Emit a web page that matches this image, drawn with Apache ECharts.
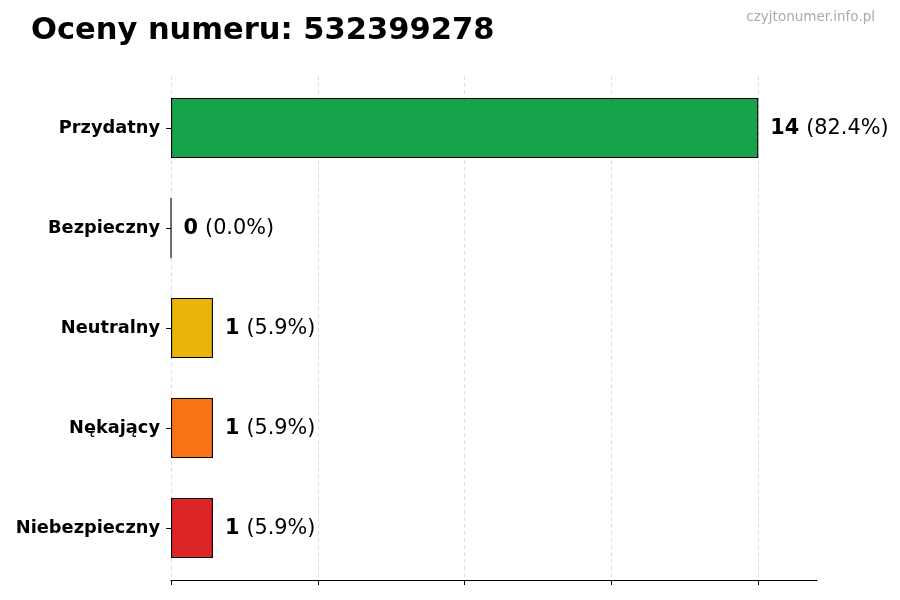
<!DOCTYPE html>
<html>
<head>
<meta charset="utf-8">
<script src="https://cdn.jsdelivr.net/npm/echarts@6/dist/echarts.min.js"></script>
<style>
html,body{margin:0;padding:0;background:#fff;}
#chart{width:900px;height:600px;}
</style>
</head>
<body>
<div id="chart"></div>
<script>
const categories = ["Przydatny", "Bezpieczny", "Neutralny", "Nękający", "Niebezpieczny"];
const values = [14, 0, 1, 1, 1];
const percents = ["82.4", "0.0", "5.9", "5.9", "5.9"];
const barColors = ["#16a34a", "#2563eb", "#eab308", "#f97316", "#dc2626"];
const titleText = "Oceny numeru: 532399278";
const watermark = "czyjtonumer.info.pl";

const FONT = '"DejaVu Sans", "Noto Sans", sans-serif';
const chart = echarts.init(document.getElementById('chart'), null, {renderer: 'canvas'});

const option = {
  backgroundColor: '#ffffff',
  animation: false,
  textStyle: {fontFamily: FONT},
  graphic: [
    {type: 'text', x: 31, y: 31.5, style: {text: titleText, font: 'bold 30.5px ' + FONT, fill: '#000', verticalAlign: 'middle'}},
    {type: 'text', x: 875, y: 17.5, style: {text: watermark, font: '13.5px ' + FONT, fill: '#aaaaaa', align: 'right', verticalAlign: 'middle'}}
  ],
  grid: [
    {left: 171, right: 83, top: 78, height: 500},
    {left: 171, right: 83, top: 76, height: 504},
    {left: 171, width: 587, top: 76, height: 504}
  ],
  xAxis: [
    {gridIndex: 0, type: 'value', min: 0, max: 15.4, show: false},
    {gridIndex: 1, type: 'value', min: 0, max: 15.4,
      axisLine: {show: true, onZero: false, lineStyle: {color: '#000', width: 1.2}},
      axisTick: {show: false}, axisLabel: {show: false}, splitLine: {show: false}},
    {gridIndex: 2, type: 'value', min: 0, max: 14, interval: 3.5,
      axisLine: {show: false, onZero: false},
      axisTick: {show: true, length: 5, lineStyle: {color: '#000', width: 1}},
      axisLabel: {show: false},
      splitLine: {show: true, lineStyle: {type: [4, 3], color: '#d4d4d4', width: 0.8}}}
  ],
  yAxis: [
    {gridIndex: 0, type: 'category', data: categories, inverse: true,
      axisLine: {show: false},
      axisTick: {show: true, alignWithLabel: true, length: 5, lineStyle: {color: '#000'}},
      axisLabel: {fontFamily: FONT, fontWeight: 'bold', fontSize: 17.8, color: '#000', margin: 11, lineHeight: 22, padding: [3, 0, 0, 0]},
      splitLine: {show: false}},
    {gridIndex: 1, type: 'value', show: false},
    {gridIndex: 2, type: 'value', show: false}
  ],
  series: [{
    type: 'bar',
    xAxisIndex: 0, yAxisIndex: 0,
    barWidth: '60%',
    data: values.map((v, i) => ({value: v, itemStyle: {color: barColors[i]}})),
    itemStyle: {borderColor: '#000', borderWidth: 1.1},
    label: {
      show: true, position: 'right', distance: 12, offset: [0, 1],
      formatter: p => '{b|' + values[p.dataIndex] + '}{s| }{n|(' + percents[p.dataIndex] + '%)}',
      rich: {
        b: {fontFamily: FONT, fontWeight: 'bold', fontSize: 20.8, color: '#000'},
        s: {fontFamily: FONT, fontSize: 20.8, color: '#000', width: 7},
        n: {fontFamily: FONT, fontSize: 20.8, color: '#000'}
      }
    }
  }]
};
chart.setOption(option);
</script>
</body>
</html>
